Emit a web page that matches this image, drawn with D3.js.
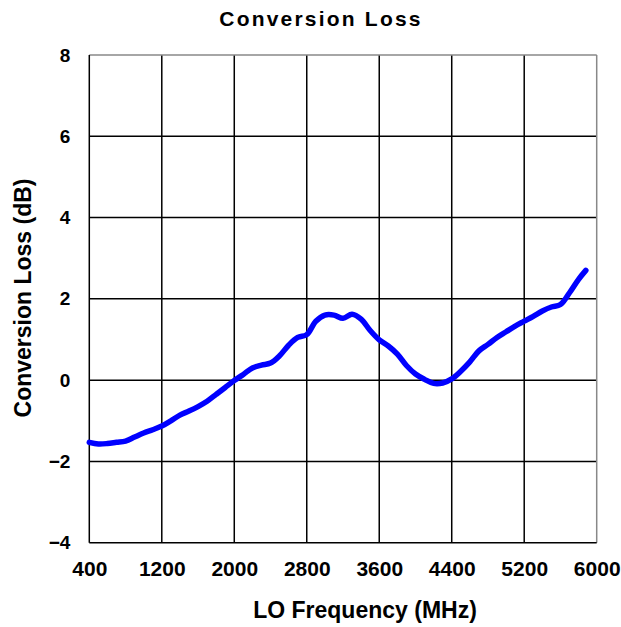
<!DOCTYPE html>
<html><head><meta charset="utf-8">
<script src="https://cdn.jsdelivr.net/npm/d3@7"></script>
<style>body{margin:0;background:#fff;}svg{display:block;font-family:"Liberation Sans",Arial,sans-serif;}</style>
</head><body><svg id="c" width="621" height="627"></svg>
<script>
const freqs = [400,500,600,700,800,900,1000,1100,1200,1300,1400,1500,1600,1700,1800,1900,2000,2100,2200,2300,2400,2500,2600,2700,2800,2900,3000,3100,3200,3300,3400,3500,3600,3700,3800,3900,4000,4100,4200,4300,4400,4500,4600,4700,4800,4900,5000,5100,5200,5300,5400,5500,5600,5700,5800,5880];
const loss = [-1.53,-1.57,-1.56,-1.53,-1.50,-1.40,-1.30,-1.22,-1.13,-1.00,-0.86,-0.76,-0.65,-0.52,-0.35,-0.18,-0.01,0.14,0.30,0.37,0.42,0.60,0.86,1.05,1.12,1.45,1.60,1.60,1.52,1.62,1.50,1.22,0.99,0.84,0.64,0.36,0.15,0.02,-0.08,-0.07,0.03,0.22,0.45,0.72,0.88,1.05,1.19,1.33,1.45,1.57,1.70,1.80,1.86,2.15,2.48,2.70];
const xTicks = [400,1200,2000,2800,3600,4400,5200,6000];
const yTicks = [-4,-2,0,2,4,6,8];

const svg = d3.select("#c");
const L=89.3, R=596.7, T=55, B=542.7;
const x = d3.scaleLinear().domain([400,6000]).range([L,R]);
const y = d3.scaleLinear().domain([-4,8]).range([B,T]);
const FF = "'Liberation Sans',Arial,sans-serif";

// grid
const g = svg.append("g");
g.selectAll(".vx").data(xTicks.slice(1,-1)).enter().append("line")
  .attr("x1",d=>x(d)).attr("x2",d=>x(d)).attr("y1",T).attr("y2",B)
  .attr("stroke","#000").attr("stroke-width",1.5);
g.selectAll(".hy").data(yTicks.slice(1,-1)).enter().append("line")
  .attr("y1",d=>y(d)).attr("y2",d=>y(d)).attr("x1",L).attr("x2",R)
  .attr("stroke","#000").attr("stroke-width",1.5);
// borders
g.append("line").attr("x1",L).attr("x2",R).attr("y1",T).attr("y2",T).attr("stroke","#888").attr("stroke-width",1.5);
g.append("line").attr("x1",R).attr("x2",R).attr("y1",T).attr("y2",B).attr("stroke","#888").attr("stroke-width",1.5);
g.append("line").attr("x1",L).attr("x2",L).attr("y1",T).attr("y2",B).attr("stroke","#000").attr("stroke-width",1.5);
g.append("line").attr("x1",L).attr("x2",R).attr("y1",B).attr("y2",B).attr("stroke","#000").attr("stroke-width",1.5);

// axes labels via d3 axes
const xAxis = svg.append("g").attr("transform",`translate(0,${B})`)
  .call(d3.axisBottom(x).tickValues(xTicks).tickSize(0).tickPadding(18).tickFormat(d3.format("d")));
xAxis.select(".domain").remove();
xAxis.selectAll("text").attr("font-size",21).attr("font-weight","bold").attr("fill","#000")
  .attr("font-family",FF);
const yAxis = svg.append("g").attr("transform",`translate(${L},0)`)
  .call(d3.axisLeft(y).tickValues(yTicks).tickSize(0).tickPadding(19).tickFormat(d3.format("d")));
yAxis.select(".domain").remove();
yAxis.selectAll("text").attr("font-size",19).attr("font-weight","bold").attr("fill","#000")
  .attr("font-family",FF);

// line
const data = freqs.map((f,i)=>({f, v:loss[i]}));
svg.append("path").datum(data)
  .attr("d", d3.line().x(d=>x(d.f)).y(d=>y(d.v)).curve(d3.curveCatmullRom.alpha(0.5)))
  .attr("fill","none").attr("stroke","#0000ff").attr("stroke-width",5.5)
  .attr("stroke-linecap","round").attr("stroke-linejoin","round");

// titles
svg.append("text").attr("x",321).attr("y",26).attr("text-anchor","middle")
  .attr("font-size",21).attr("font-weight","bold").attr("letter-spacing","2.2px").text("Conversion Loss");
svg.append("text").attr("x",365).attr("y",618).attr("text-anchor","middle")
  .attr("font-size",23).attr("font-weight","bold").text("LO Frequency (MHz)");
svg.append("text").attr("transform",`translate(31,298) rotate(-90)`).attr("text-anchor","middle")
  .attr("font-size",23).attr("font-weight","bold").text("Conversion Loss (dB)");
</script></body></html>
